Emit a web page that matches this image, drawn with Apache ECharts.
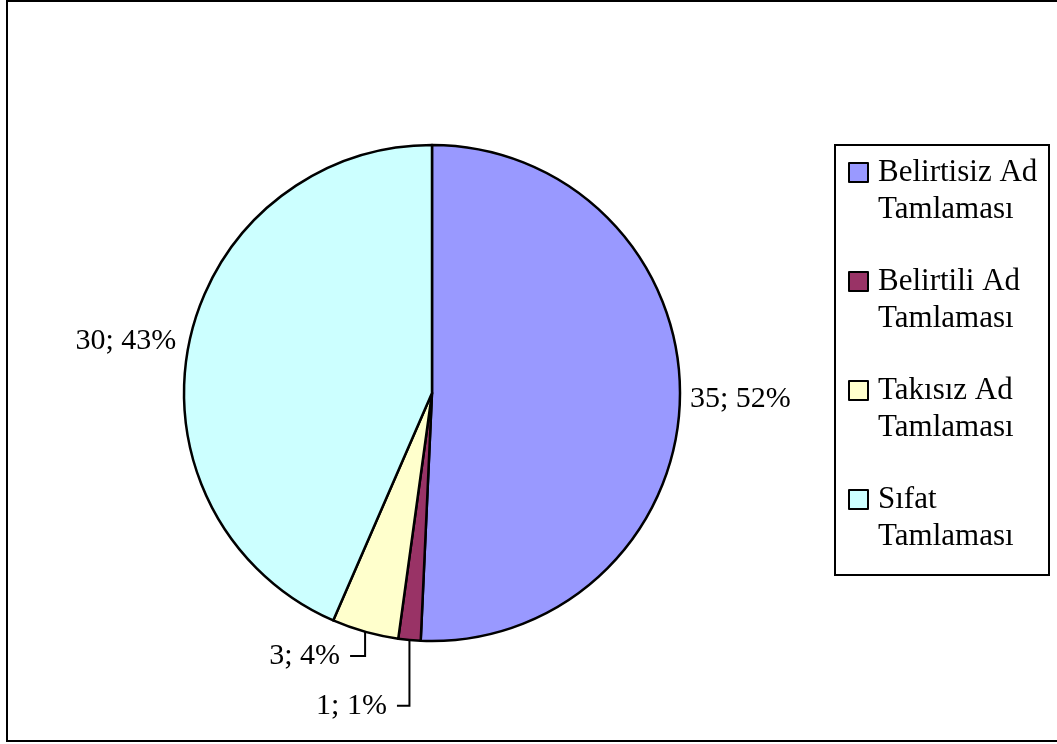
<!DOCTYPE html>
<html><head><meta charset="utf-8">
<script src="https://cdn.jsdelivr.net/npm/echarts@6/dist/echarts.min.js"></script>
<style>html,body{margin:0;padding:0;background:#fff}#c{width:1057px;height:744px}</style>
</head><body><div id="c"></div>
<script>
const categories = ['Belirtisiz Ad Tamlaması', 'Belirtili Ad Tamlaması', 'Takısız Ad Tamlaması', 'Sıfat Tamlaması'];
const values = [35, 1, 3, 30];
const percentLabels = [52, 1, 4, 43];
const colors = ['#9999FF', '#993366', '#FFFFCC', '#CCFFFF'];

const FONT = "'Liberation Serif', 'Times New Roman', serif";
const lineCfg = [
  { show: false, length: 5, length2: 0 },
  { show: true, length: 66, length2: 12.5 },
  { show: true, length: 25, length2: 15 },
  { show: false, length: 8, length2: 0 }
];
const labelDist = [5, 10, 10, 5];

const chart = echarts.init(document.getElementById('c'), null, { renderer: 'canvas' });
chart.setOption({
  backgroundColor: '#fff',
  animation: false,
  graphic: [
    { type: 'rect', shape: { x: 7, y: 1, width: 1060, height: 740 }, style: { fill: 'none', stroke: '#000', lineWidth: 2 }, silent: true },
    { type: 'rect', shape: { x: 835, y: 145, width: 214, height: 430 }, style: { fill: 'none', stroke: '#000', lineWidth: 2 }, silent: true }
  ],
  legend: {
    orient: 'vertical',
    left: 848,
    top: 117,
    padding: 0,
    itemGap: -2,
    itemWidth: 19,
    itemHeight: 19,
    icon: 'rect',
    selectedMode: false,
    itemStyle: { borderColor: '#000', borderWidth: 2 },
    formatter: function (name) { return '\n' + name.replace(' Tamlaması', '\nTamlaması'); },
    textStyle: { fontFamily: FONT, fontSize: 31, lineHeight: 37, color: '#000', padding: [0, 0, 0, 5] },
    data: categories
  },
  series: [{
    type: 'pie',
    radius: 248,
    center: [432, 393],
    startAngle: 90,
    clockwise: true,
    avoidLabelOverlap: false,
    emphasis: { disabled: true },
    itemStyle: { borderColor: '#000', borderWidth: 2.5 },
    label: {
      show: true,
      position: 'outside',
      fontFamily: FONT,
      fontSize: 30,
      color: '#000',
      formatter: function (p) { return values[p.dataIndex] + '; ' + percentLabels[p.dataIndex] + '%'; }
    },
    labelLine: { lineStyle: { color: '#000', width: 2 }, smooth: false },
    labelLayout: function (p) {
      const pts = p.labelLinePoints;
      if (!pts || p.dataIndex === 0 || p.dataIndex === 3) return {};
      const shift = pts[0][0] - pts[1][0];
      return {
        dx: shift,
        labelLinePoints: [pts[0], [pts[0][0], pts[1][1]], [pts[2][0] + shift, pts[2][1]]]
      };
    },
    data: categories.map(function (n, i) {
      return {
        name: n,
        value: values[i],
        itemStyle: { color: colors[i] },
        label: { distanceToLabelLine: labelDist[i] },
        labelLine: lineCfg[i]
      };
    })
  }]
});
</script>
</body></html>
